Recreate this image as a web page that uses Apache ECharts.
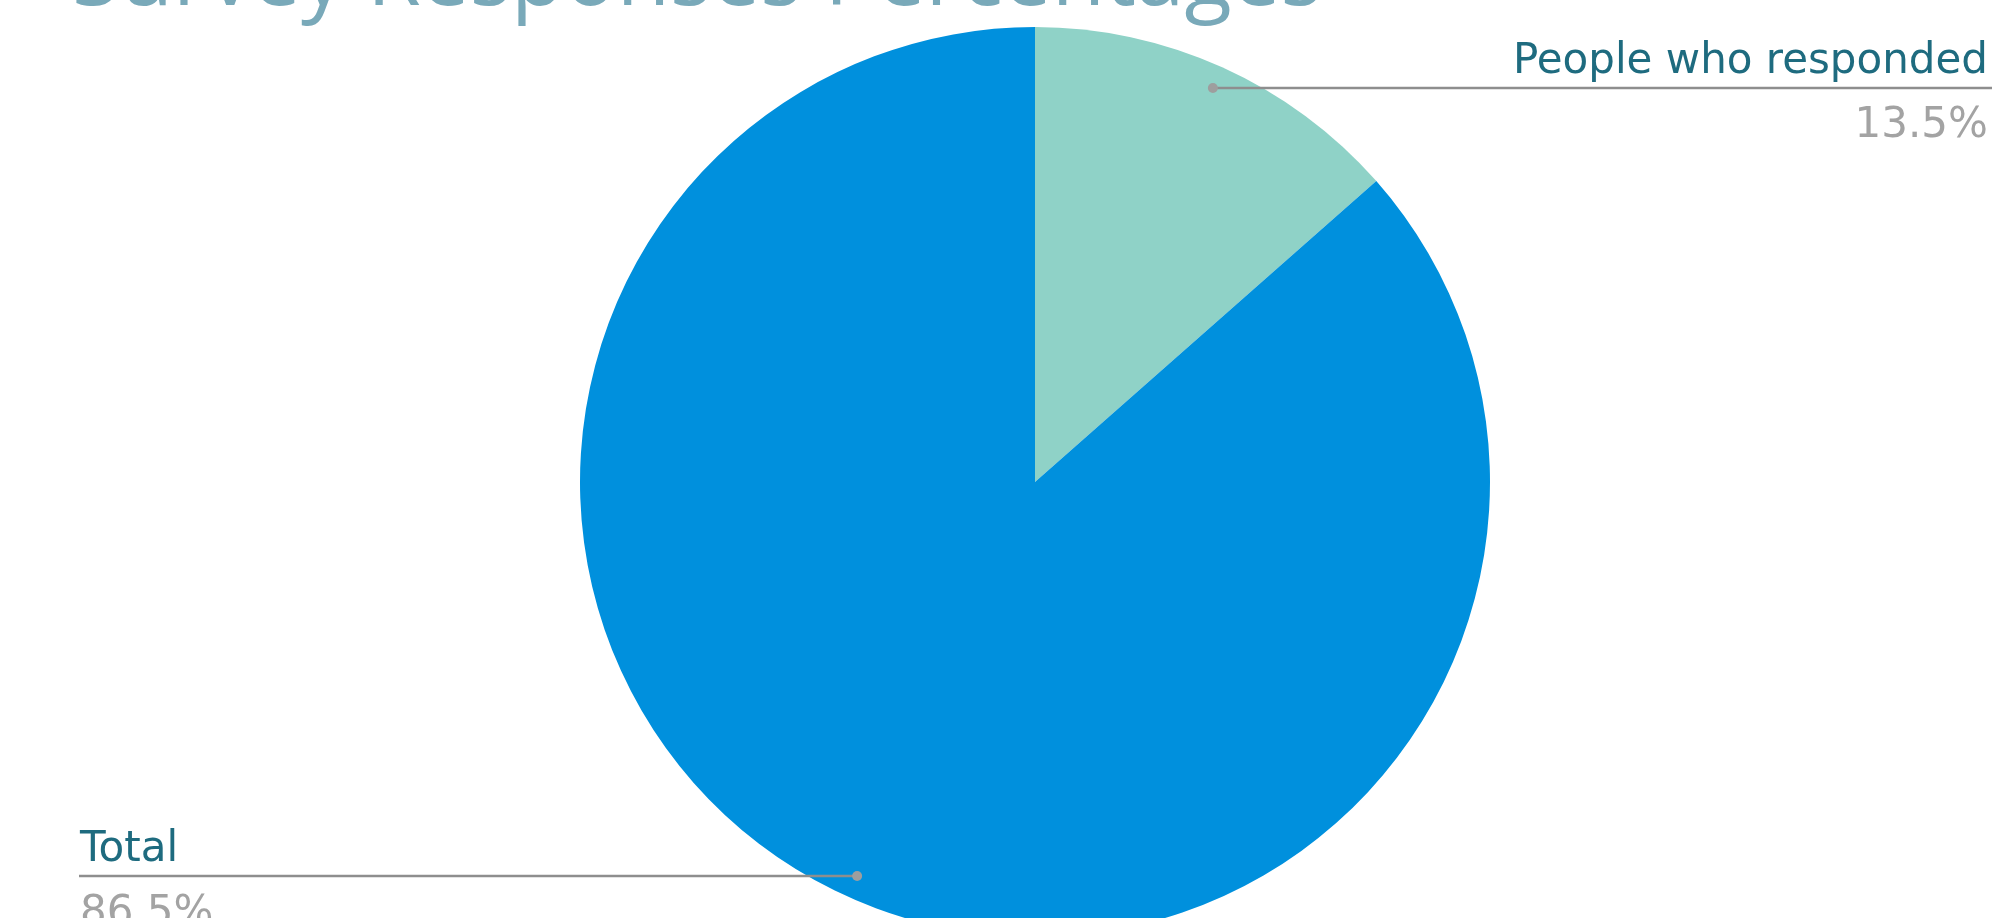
<!DOCTYPE html>
<html>
<head>
<meta charset="utf-8">
<script src="https://cdn.jsdelivr.net/npm/echarts@6/dist/echarts.min.js"></script>
<style>
html,body{margin:0;padding:0;background:#fff;}
#chart{width:1992px;height:918px;}
</style>
</head>
<body>
<div id="chart"></div>
<script>
// ---- data ----
const titleText = 'Survey Responses Percentages';
const categories = ['People who responded', 'Total'];
const values = [13.5, 86.5];
const colors = ['#8fd2c7', '#0090dd'];

// ---- layout constants ----
const W = 1992, H = 918;
const CX = 1035, CY = 482, R = 455;
const DOT_R = 0.95;

const chart = echarts.init(document.getElementById('chart'), null, {renderer: 'canvas'});

const total = values.reduce((a, b) => a + b, 0);
const pieData = categories.map((name, i) => ({
  name: name,
  value: values[i],
  itemStyle: {color: colors[i]}
}));
const plainData = categories.map((name, i) => ({name: name, value: values[i]}));

function dotPoint(px, py) {
  const dx = px - CX, dy = py - CY;
  const d = Math.sqrt(dx * dx + dy * dy);
  return [CX + dx / d * R * DOT_R, CY + dy / d * R * DOT_R, dx < 0];
}

const option = {
  backgroundColor: '#ffffff',
  animation: false,
  title: {
    text: titleText,
    left: 72,
    top: -63,
    padding: 0,
    textStyle: {
      fontFamily: 'Open Sans',
      fontWeight: 'normal',
      fontSize: 87,
      color: '#79a9b9'
    }
  },
  series: [
    {
      type: 'pie',
      silent: true,
      z: 1,
      center: [CX, CY],
      radius: [0, R],
      startAngle: 90,
      clockwise: true,
      data: pieData,
      label: {show: false},
      labelLine: {show: false}
    },
    {
      type: 'pie',
      silent: true,
      z: 5,
      center: [CX, CY],
      radius: [0, R],
      startAngle: 90,
      clockwise: true,
      avoidLabelOverlap: false,
      data: plainData,
      itemStyle: {color: 'rgba(0,0,0,0)'},
      label: {
        show: true,
        position: 'outer',
        formatter: function (p) {
          return '{name|' + p.name + '}\n{val|' + (p.value / total * 100).toFixed(1) + '%}';
        },
        rich: {
          name: {fontFamily: 'DejaVu Sans', fontSize: 42, color: '#1e6b7f', lineHeight: 62, padding: [0, 0, 2, 0]},
          val: {fontFamily: 'DejaVu Sans', fontSize: 42, color: '#a3a3a3', lineHeight: 50, padding: [14, 0, 0, 0]}
        }
      },
      labelLine: {
        show: true,
        length: 10,
        length2: 10,
        lineStyle: {color: '#8e8e8e', width: 2.5}
      },
      labelLayout: function (params) {
        const p0 = params.labelLinePoints[0];
        const s = dotPoint(p0[0], p0[1]);
        const sx = s[0], sy = s[1];
        if (s[2]) {
          return {
            x: 80, y: sy, align: 'left', verticalAlign: 'middle',
            labelLinePoints: [[sx, sy], [sx, sy], [79, sy]]
          };
        }
        return {
          x: W - 4, y: sy, align: 'right', verticalAlign: 'middle',
          labelLinePoints: [[sx, sy], [sx, sy], [W, sy]]
        };
      }
    },
    {
      type: 'pie',
      silent: true,
      z: 6,
      center: [CX, CY],
      radius: [0, R],
      startAngle: 90,
      clockwise: true,
      avoidLabelOverlap: false,
      data: plainData,
      itemStyle: {color: 'rgba(0,0,0,0)'},
      label: {
        show: true,
        position: 'outer',
        formatter: ' ',
        fontSize: 10,
        lineHeight: 10,
        width: 10,
        height: 10,
        padding: 0,
        backgroundColor: '#9e9e9e',
        borderRadius: 5
      },
      labelLine: {show: true, length: 1, length2: 1, lineStyle: {color: 'rgba(0,0,0,0)', width: 0}},
      labelLayout: function (params) {
        const p0 = params.labelLinePoints[0];
        const s = dotPoint(p0[0], p0[1]);
        return {
          x: s[0], y: s[1], align: 'center', verticalAlign: 'middle',
          labelLinePoints: [[s[0], s[1]], [s[0], s[1]], [s[0], s[1]]]
        };
      }
    }
  ]
};
chart.setOption(option);
</script>
</body>
</html>
